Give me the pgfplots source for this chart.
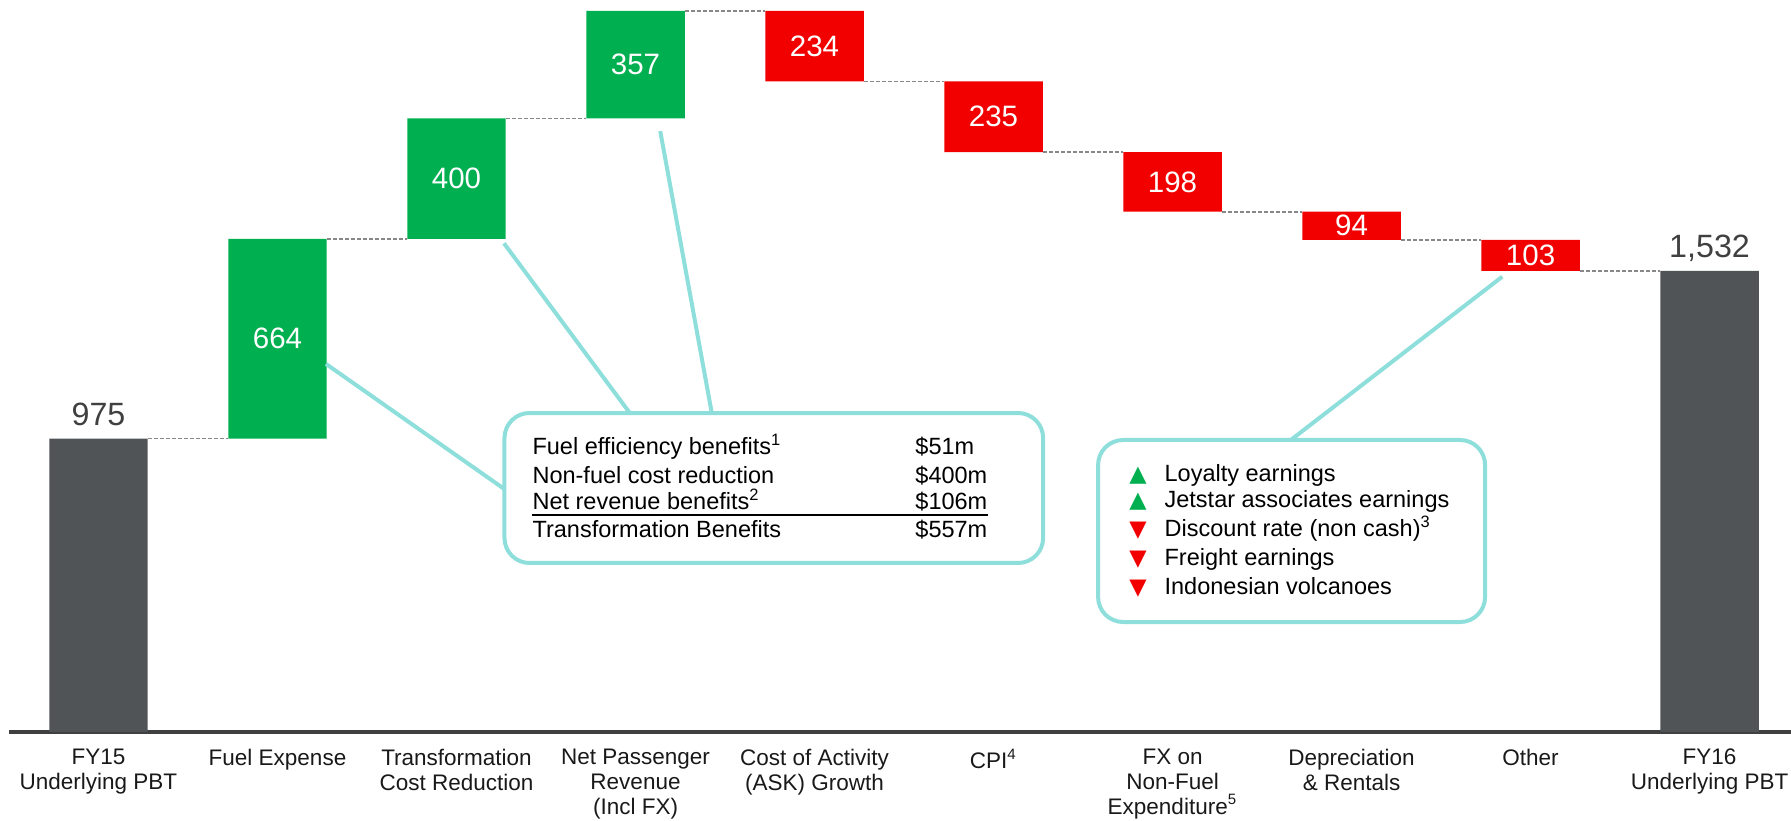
\documentclass[border=0pt]{standalone}
\usepackage{pgfplots}
\usepackage{pgfplotstable}
\pgfplotsset{compat=1.18}
\usepackage{fontspec}
\setmainfont{Liberation Sans}
\newfontfamily\dejavu{DejaVu Sans}
\definecolor{qgreen}{HTML}{00B050}
\definecolor{qred}{HTML}{F20000}
\definecolor{qgray}{HTML}{505457}
\definecolor{qteal}{HTML}{8EDFDB}
\definecolor{qdash}{HTML}{888888}
\definecolor{qtext}{HTML}{404040}

\pgfplotstableread{
x base gray green red
0 0 975 0 0
1 975 0 664 0
2 1639 0 400 0
3 2039 0 357 0
4 2162 0 0 234
5 1927 0 0 235
6 1729 0 0 198
7 1635 0 0 94
8 1532 0 0 103
9 0 1532 0 0
}\wf

\pgfplotstableread{
x y label
1 1307 664
2 1839 400
3 2217.5 357
4 2279 234
5 2044.5 235
6 1828 198
7 1682 94
8 1583.5 103
}\inlabels

\pgfplotstableread{
x y label
0 975 975
9 1532 {1,532}
}\toplabels

\pgfplotstableread{
x y
0.275 975
0.725 975
0.725 nan
1.275 1639
1.725 1639
1.725 nan
2.275 2039
2.725 2039
2.725 nan
3.275 2396
3.725 2396
3.725 nan
4.275 2162
4.725 2162
4.725 nan
5.275 1927
5.725 1927
5.725 nan
6.275 1729
6.725 1729
6.725 nan
7.275 1635
7.725 1635
7.725 nan
8.275 1532
8.725 1532
}\conn

\pgfplotsset{
  common/.style={
    scale only axis,
    width=712.8pt, height=292.8pt,
    at={(3.6pt,35.6pt)}, anchor=south west,
    xmin=-0.5, xmax=9.455, ymin=0, ymax=2432.5,
    enlargelimits=false, clip=false,
  }
}

\begin{document}
\begin{tikzpicture}
\useasboundingbox (0,0) rectangle (716.4pt,328.4pt);
\begin{axis}[common,
  ybar stacked, bar width=0.55,
  axis x line=bottom, axis y line=none,
  x axis line style={-, draw=qtext, line width=1.4pt},
  xtick={0,...,9}, major tick length=0pt,
  xticklabels={FY15\\Underlying PBT, Fuel Expense, Transformation\\Cost Reduction, Net Passenger\\Revenue\\(Incl FX), Cost of Activity\\(ASK) Growth, CPI\textsuperscript{4}, FX on\\Non-Fuel\\Expenditure\textsuperscript{5}, Depreciation\\\& Rentals, Other, FY16\\Underlying PBT},
  xticklabel style={align=center, font=\fontsize{9}{10}\selectfont, text=black!90, anchor=north, inner sep=0pt, yshift=-6.6pt},
]
\addplot[draw=none, fill=none] table[x=x, y=base] {\wf};
\addplot[draw=none, fill=qgray] table[x=x, y=gray] {\wf};
\addplot[draw=none, fill=qgreen] table[x=x, y=green] {\wf};
\addplot[draw=none, fill=qred] table[x=x, y=red] {\wf};
\end{axis}

\begin{axis}[common, hide axis]
\addplot[qdash, line width=0.7pt, dash pattern=on 1.6pt off 0.8pt, unbounded coords=jump] table[x=x, y=y] {\conn};
\addplot[draw=none, mark=none, nodes near coords, point meta=explicit symbolic,
  every node near coord/.style={anchor=center, text=white, font=\fontsize{11.8}{14}\selectfont}]
  table[x=x, y=y, meta=label] {\inlabels};
\addplot[draw=none, mark=none, nodes near coords, point meta=explicit symbolic,
  every node near coord/.style={anchor=base, yshift=5.4pt, text=qtext, font=\fontsize{12.9}{15}\selectfont}]
  table[x=x, y=y, meta=label] {\toplabels};

% callout connectors
\draw[qteal, line width=1.6pt] (axis cs:1.271,1223) -- (axis cs:2.268,807);
\draw[qteal, line width=1.6pt] (axis cs:2.265,1624) -- (axis cs:2.968,1060);
\draw[qteal, line width=1.6pt] (axis cs:3.138,1997) -- (axis cs:3.426,1060);
\draw[qteal, line width=1.6pt] (axis cs:7.842,1513) -- (axis cs:6.660,970);
% callout boxes
\draw[qteal, line width=1.6pt, fill=white, rounded corners=10pt] (axis cs:2.268,1060) rectangle (axis cs:5.277,561.6);
\draw[qteal, line width=1.6pt, fill=white, rounded corners=10pt] (axis cs:5.584,970.3) rectangle (axis cs:7.746,365.5);

\begin{scope}[every node/.style={inner sep=0pt, font=\fontsize{9.4}{11}\selectfont, text=black}]
\node[anchor=base west] at (axis cs:2.422,920.5) {Fuel efficiency benefits\textsuperscript{1}};
\node[anchor=base west] at (axis cs:2.422,827.4) {Non-fuel cost reduction};
\node[anchor=base west] at (axis cs:2.422,737.7) {Net revenue benefits\textsuperscript{2}};
\node[anchor=base west] at (axis cs:2.422,644.7) {Transformation Benefits};
\node[anchor=base west] at (axis cs:4.561,920.5) {\$51m};
\node[anchor=base west] at (axis cs:4.561,827.4) {\$400m};
\node[anchor=base west] at (axis cs:4.561,737.7) {\$106m};
\node[anchor=base west] at (axis cs:4.561,644.7) {\$557m};
\draw[black, line width=0.5pt] (axis cs:2.422,721) -- (axis cs:4.969,721);

\node[anchor=base west] at (axis cs:5.953,834) {Loyalty earnings};
\node[anchor=base west] at (axis cs:5.953,744.4) {Jetstar associates earnings};
\node[anchor=base west] at (axis cs:5.953,648) {Discount rate (non cash)\textsuperscript{3}};
\node[anchor=base west] at (axis cs:5.953,551.6) {Freight earnings};
\node[anchor=base west] at (axis cs:5.953,455.3) {Indonesian volcanoes};
\node[anchor=base, text=qgreen, font=\dejavu\fontsize{9}{10}\selectfont] at (axis cs:5.807,834) {▲};
\node[anchor=base, text=qgreen, font=\dejavu\fontsize{9}{10}\selectfont] at (axis cs:5.807,744.4) {▲};
\node[anchor=base, text=qred, font=\dejavu\fontsize{9}{10}\selectfont] at (axis cs:5.807,648) {▼};
\node[anchor=base, text=qred, font=\dejavu\fontsize{9}{10}\selectfont] at (axis cs:5.807,551.6) {▼};
\node[anchor=base, text=qred, font=\dejavu\fontsize{9}{10}\selectfont] at (axis cs:5.807,455.3) {▼};
\end{scope}
\end{axis}
\end{tikzpicture}
\end{document}
